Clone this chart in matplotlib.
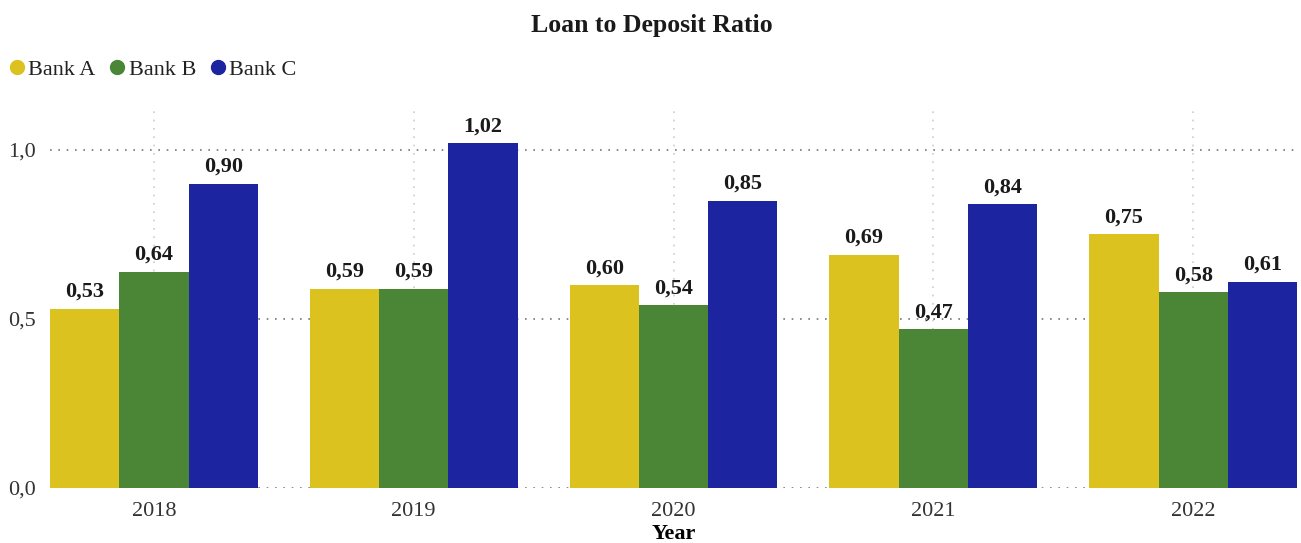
import matplotlib
matplotlib.use("Agg")
import matplotlib.pyplot as plt
import numpy as np
from matplotlib.lines import Line2D
from matplotlib.ticker import FuncFormatter

years = ["2018", "2019", "2020", "2021", "2022"]
bank_a = [0.53, 0.59, 0.60, 0.69, 0.75]
bank_b = [0.64, 0.59, 0.54, 0.47, 0.58]
bank_c = [0.90, 1.02, 0.85, 0.84, 0.61]
banks = ["Bank A", "Bank B", "Bank C"]
colors = ["#DCC21E", "#4A8635", "#1C24A0"]

plt.rcParams['font.family'] = ['Liberation Serif', 'DejaVu Serif']

fig = plt.figure(figsize=(13.01, 5.43), dpi=100)
ax = fig.add_axes([0.0384, 0.1013, 0.9586, 0.7053])

x = np.arange(len(years))
w = 0.8 / 3
for i, (vals, col) in enumerate(zip([bank_a, bank_b, bank_c], colors)):
    bars = ax.bar(x + (i - 1) * w, vals, w, color=col, zorder=3)
    for b, v in zip(bars, vals):
        ax.text(b.get_x() + b.get_width() / 2, v + 0.02, f"{v:.2f}".replace(".", ","),
                ha="center", va="bottom", fontsize=16, fontweight="bold", color="#1a1a1a")

ax.set_xlim(-0.4, 4.4)
ax.set_ylim(0, 1.133)
ax.set_yticks([0, 0.5, 1.0])
ax.yaxis.set_major_formatter(FuncFormatter(lambda v, p: f"{v:.1f}".replace(".", ",")))
ax.set_xticks(x)
ax.set_xticklabels(years)
ax.tick_params(axis="both", length=0, labelsize=16, colors="#333333")
ax.tick_params(axis="x", pad=10)
ax.tick_params(axis="y", pad=10)
ax.grid(axis="y", linestyle=(0, (1, 4)), color="#777777", linewidth=1.2, zorder=0)
ax.grid(axis="x", linestyle=(0, (1, 4)), color="#cccccc", linewidth=1.2, zorder=0)
for s in ax.spines.values():
    s.set_visible(False)

ax.set_xlabel("Year", fontsize=16, fontweight="bold", labelpad=2)

fig.text(0.501, 0.953, "Loan to Deposit Ratio", ha="center", va="center",
         fontsize=18.5, fontweight="bold", color="#1a1a1a")

handles = [Line2D([], [], marker="o", linestyle="", markersize=10, color=c) for c in colors]
fig.legend(handles, banks, loc="center left", bbox_to_anchor=(-0.0025, 0.872), ncol=3,
           frameon=False, fontsize=16, handletextpad=0.0, columnspacing=0.5,
           borderaxespad=0, handlelength=1.0, labelcolor="#222222")

fig.savefig("out.png", dpi=100)
